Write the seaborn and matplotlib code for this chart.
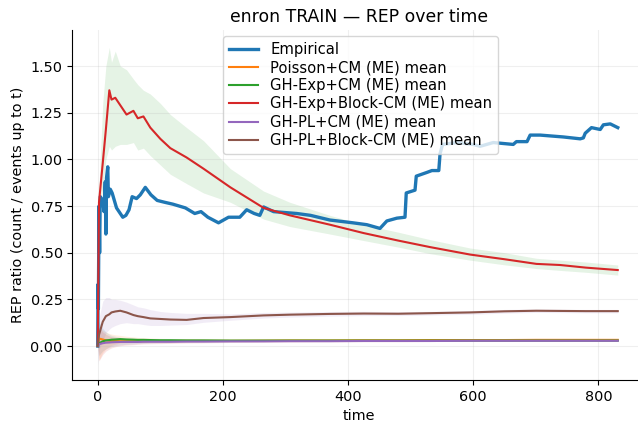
import numpy as np
import pandas as pd
import matplotlib
matplotlib.use("Agg")
import matplotlib.pyplot as plt
import seaborn as sns

# ---------------- data ----------------
EMP_T = [0, 0.5, 1, 2, 3, 4, 8, 10, 12, 13, 14, 16, 17, 20, 23, 30, 40, 45, 50, 55, 62, 68, 76,
         85, 95, 107, 120, 140, 155, 165, 176, 193, 209, 227, 238, 250, 259, 265, 281, 318, 340,
         371, 408, 430, 451, 462, 478, 491, 493, 507, 509, 526, 534, 545, 547, 551, 574, 600,
         611, 632, 664, 669, 686, 691, 707, 744, 771, 776, 779, 789, 803, 808, 819, 831]
EMP_V = [0.0, 0.33, 0.2, 0.75, 0.5, 0.8, 0.78, 0.72, 0.88, 0.60, 0.90, 0.96, 0.80, 0.84, 0.82,
         0.74, 0.69, 0.70, 0.73, 0.80, 0.79, 0.81, 0.85, 0.81, 0.78, 0.77, 0.76, 0.74, 0.71,
         0.72, 0.69, 0.66, 0.69, 0.69, 0.73, 0.71, 0.70, 0.745, 0.72, 0.71, 0.70, 0.675, 0.66,
         0.65, 0.63, 0.67, 0.685, 0.69, 0.82, 0.835, 0.91, 0.93, 0.94, 0.94, 1.03, 1.08, 1.09,
         1.08, 1.07, 1.09, 1.08, 1.095, 1.095, 1.13, 1.13, 1.12, 1.11, 1.115, 1.14, 1.17, 1.16,
         1.185, 1.19, 1.17]

MODEL_T = [0, 2, 8, 13, 18.5, 22, 28, 36, 46, 57, 64, 73, 84, 100, 116, 142, 169, 212, 265,
           307, 371, 425, 480, 531, 595, 650, 701, 739, 780, 831]

EXP_BLOCK_MEAN = [0, 0.77, 0.98, 1.16, 1.37, 1.32, 1.33, 1.29, 1.24, 1.26, 1.22, 1.23, 1.17,
                  1.11, 1.06, 1.01, 0.95, 0.85, 0.74, 0.70, 0.65, 0.605, 0.565, 0.53, 0.49,
                  0.465, 0.44, 0.434, 0.42, 0.407]
EXP_BLOCK_HI = [0, 0.85, 1.30, 1.50, 1.60, 1.52, 1.58, 1.50, 1.48, 1.43, 1.40, 1.37, 1.35,
                1.30, 1.24, 1.17, 1.10, 0.95, 0.83, 0.77, 0.70, 0.65, 0.61, 0.57, 0.525, 0.50,
                0.47, 0.46, 0.45, 0.434]
EXP_BLOCK_LO = [0, 0.70, 0.85, 1.00, 1.07, 1.05, 1.07, 1.08, 1.08, 1.09, 1.05, 1.06, 1.02,
                0.97, 0.92, 0.87, 0.82, 0.77, 0.68, 0.64, 0.60, 0.565, 0.53, 0.495, 0.46,
                0.435, 0.415, 0.405, 0.395, 0.38]

PL_BLOCK_MEAN = [0, 0.06, 0.13, 0.16, 0.17, 0.18, 0.185, 0.189, 0.18, 0.166, 0.16, 0.155,
                 0.148, 0.145, 0.142, 0.14, 0.15, 0.155, 0.164, 0.168, 0.172, 0.174, 0.173,
                 0.176, 0.18, 0.186, 0.189, 0.188, 0.187, 0.187]
PL_BLOCK_HI = [0, 0.15, 0.24, 0.26, 0.26, 0.25, 0.25, 0.245, 0.235, 0.22, 0.21, 0.205, 0.195,
               0.185, 0.18, 0.175, 0.175, 0.172, 0.18, 0.182, 0.185, 0.186, 0.184, 0.186,
               0.19, 0.196, 0.198, 0.197, 0.196, 0.196]
PL_BLOCK_LO = [-0.1, -0.02, 0.03, 0.07, 0.09, 0.10, 0.11, 0.12, 0.125, 0.12, 0.12, 0.115,
               0.11, 0.11, 0.112, 0.115, 0.127, 0.138, 0.15, 0.155, 0.16, 0.163, 0.163, 0.166,
               0.17, 0.176, 0.18, 0.179, 0.178, 0.178]

POISSON_MEAN = [0, 0.04, 0.035, 0.03, 0.028, 0.027, 0.027, 0.026, 0.026, 0.026, 0.026, 0.026,
                0.027, 0.027, 0.027, 0.028, 0.028, 0.028, 0.029, 0.03, 0.03, 0.031, 0.031,
                0.032, 0.032, 0.032, 0.033, 0.033, 0.033, 0.033]
EXP_CM_MEAN = [0, 0.015, 0.025, 0.03, 0.032, 0.034, 0.035, 0.037, 0.035, 0.034, 0.033, 0.033,
               0.032, 0.031, 0.031, 0.03, 0.03, 0.029, 0.029, 0.029, 0.029, 0.029, 0.029,
               0.029, 0.029, 0.029, 0.029, 0.029, 0.029, 0.029]
PL_CM_MEAN = [0, 0.01, 0.015, 0.018, 0.019, 0.02, 0.021, 0.022, 0.022, 0.022, 0.022, 0.023,
              0.023, 0.023, 0.023, 0.024, 0.024, 0.025, 0.025, 0.026, 0.026, 0.027, 0.027,
              0.027, 0.028, 0.028, 0.028, 0.028, 0.028, 0.028]
LOW_SPREAD = [0, 0.09, 0.06, 0.045, 0.035, 0.03, 0.025, 0.02, 0.017, 0.015, 0.013, 0.012,
              0.011, 0.01, 0.009, 0.008, 0.007, 0.006, 0.005, 0.005, 0.004, 0.004, 0.004,
              0.003, 0.003, 0.003, 0.003, 0.003, 0.003, 0.003]

LABELS = ["Poisson+CM (ME) mean", "GH-Exp+CM (ME) mean", "GH-Exp+Block-CM (ME) mean",
          "GH-PL+CM (ME) mean", "GH-PL+Block-CM (ME) mean"]

# ---------------- plotting ----------------
plt.rcParams["font.size"] = 10.4
fig = plt.figure(figsize=(6.38, 4.30), dpi=100)
L, R, T, B = 72.4, 645.3, 30.0, 380.0
ax = fig.add_axes([L / 638, 1 - B / 430, (R - L) / 638, (B - T) / 430])

pal = sns.color_palette("tab10")
t = np.array(MODEL_T)
low = np.array(LOW_SPREAD)

means = [POISSON_MEAN, EXP_CM_MEAN, EXP_BLOCK_MEAN, PL_CM_MEAN, PL_BLOCK_MEAN]
los = [np.array(POISSON_MEAN) - low, np.array(EXP_CM_MEAN) - low, EXP_BLOCK_LO,
       np.array(PL_CM_MEAN) - low, PL_BLOCK_LO]
his = [np.array(POISSON_MEAN) + low, np.array(EXP_CM_MEAN) + low, EXP_BLOCK_HI,
       np.array(PL_CM_MEAN) + low, PL_BLOCK_HI]

# bands (colour shifted by one, as in the reference)
for i in range(5):
    ax.fill_between(t, los[i], his[i], color=pal[i], alpha=0.12, linewidth=0)

emp = pd.DataFrame({"time": EMP_T, "rep": EMP_V})
sns.lineplot(data=emp, x="time", y="rep", ax=ax, color=pal[0], lw=2.4,
             label="Empirical", estimator=None)
for i in range(5):
    df = pd.DataFrame({"time": MODEL_T, "rep": means[i]})
    sns.lineplot(data=df, x="time", y="rep", ax=ax, color=pal[i + 1], lw=1.5,
                 label=LABELS[i], estimator=None)

ax.set_xlim(-40.5, 875)
ax.set_ylim(-0.182, 1.693)
ax.set_yticks([0, 0.25, 0.5, 0.75, 1.0, 1.25, 1.5])
ax.set_xticks([0, 200, 400, 600, 800])
ax.grid(True, alpha=0.2)
for s in ["top", "right"]:
    ax.spines[s].set_visible(False)
ax.set_title("enron TRAIN — REP over time", fontsize=12.4)
ax.set_xlabel("time")
ax.set_ylabel("REP ratio (count / events up to t)")
ax.legend(loc="upper center", fontsize=10.6, labelspacing=0.22, borderaxespad=0.4,
          bbox_to_anchor=(0.503, 1.0))

fig.savefig("out.png", dpi=100)
